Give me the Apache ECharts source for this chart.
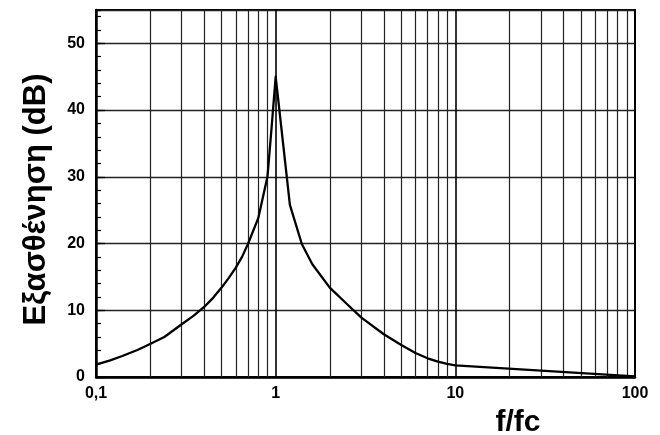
<!DOCTYPE html>
<html>
<head>
<meta charset="utf-8">
<script src="https://cdn.jsdelivr.net/npm/echarts@6/dist/echarts.min.js"></script>
<style>html,body{margin:0;padding:0;background:#fff}#c{width:660px;height:435px}</style>
</head>
<body>
<div id="c"></div>
<script>
var freqRatio = [0.1, 0.12, 0.14, 0.17, 0.2, 0.24, 0.3, 0.35, 0.4, 0.45, 0.5, 0.55, 0.6, 0.65, 0.7, 0.8, 0.9, 0.95, 1.0, 1.2, 1.4, 1.6, 2, 2.5, 3, 4, 5, 6, 7, 8, 9, 10, 100];
var attenuation = [1.85, 2.5, 3.15, 4.05, 4.95, 6.0, 7.9, 9.2, 10.5, 11.9, 13.4, 14.9, 16.4, 18.0, 19.9, 23.8, 30.0, 37.5, 45.0, 25.8, 19.9, 16.9, 13.4, 10.9, 8.9, 6.4, 4.8, 3.6, 2.8, 2.3, 1.95, 1.75, 0.1];
var minorGridX = [0.2, 0.3, 0.4, 0.5, 0.6, 0.7, 0.8, 0.9, 2, 3, 4, 5, 6, 7, 8, 9, 20, 30, 40, 50, 60, 70, 80, 90];
var xTitle = 'f/fc';
var yTitle = 'Εξασθένηση (dB)';

var chart = echarts.init(document.getElementById('c'));
var pts = freqRatio.map(function (f, i) { return [f, attenuation[i]]; });
var font = 'Liberation Sans, Arial, sans-serif';
chart.setOption({
  backgroundColor: '#ffffff',
  animation: false,
  grid: { left: 96, right: 25, top: 10, bottom: 58, outerBoundsMode: 'none', containLabel: false,
    show: true, borderColor: '#000', borderWidth: 2, backgroundColor: '#fff' },
  xAxis: {
    type: 'log', logBase: 10, min: 0.1, max: 100,
    name: xTitle, nameLocation: 'middle', nameGap: 31,
    nameTextStyle: { fontFamily: font, fontWeight: 'bold', fontSize: 30, color: '#000', padding: [0, 0, 0, 305] },
    axisLine: { show: true, onZero: false, lineStyle: { color: '#000', width: 2.5 } },
    axisTick: { show: false },
    axisLabel: { fontFamily: font, fontWeight: 'bold', fontSize: 16, color: '#000', margin: 9,
      formatter: function (v) { return String(v).replace('.', ','); } },
    splitLine: { show: true, lineStyle: { color: '#000', width: 1.6 } },
    minorTick: { show: false }, minorSplitLine: { show: false }
  },
  yAxis: [{
    type: 'value', min: 0, max: 55, interval: 10, position: 'left',
    name: yTitle, nameLocation: 'middle', nameGap: 44, nameRotate: 90,
    nameTextStyle: { fontFamily: font, fontWeight: 'bold', fontSize: 31, color: '#000', padding: [0, 12, 0, 0] },
    axisLine: { show: true, lineStyle: { color: '#000', width: 2.5 } },
    axisTick: { show: true, inside: true, length: 9, lineStyle: { color: '#000', width: 1.3 } },
    axisLabel: { fontFamily: font, fontWeight: 'bold', fontSize: 16, color: '#000', margin: 11, showMaxLabel: false },
    splitLine: { show: true, lineStyle: { color: '#222', width: 1.3 } }
  }, {
    type: 'value', min: 0, max: 55, interval: 2, position: 'left', offset: 0,
    axisLine: { show: false },
    axisTick: { show: true, inside: true, length: 5, lineStyle: { color: '#000', width: 1.2 } },
    axisLabel: { show: false },
    splitLine: { show: false }
  }],
  series: [{
    type: 'line', yAxisIndex: 0, data: pts, showSymbol: false, symbol: 'none', smooth: false,
    lineStyle: { color: '#000', width: 2.3, join: 'round' },
    markLine: {
      silent: true, symbol: ['none', 'none'], label: { show: false },
      lineStyle: { color: '#222', width: 1.2, type: 'solid' },
      emphasis: { disabled: true },
      data: minorGridX.map(function (v) { return { xAxis: v }; })
    },
    z: 5
  }]
});
</script>
</body>
</html>
